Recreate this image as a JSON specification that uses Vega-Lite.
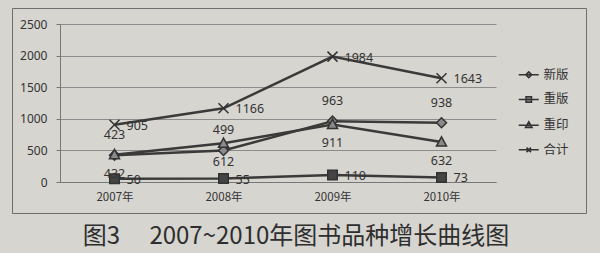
{
  "$schema": "https://vega.github.io/schema/vega-lite/v6.json",
  "width": 574,
  "height": 205,
  "autosize": {"type": "none"},
  "padding": {"left": 12, "top": 8, "right": 14, "bottom": 40},
  "background": "#d7d5d0",
  "config": {
    "view": {"stroke": "#6e6e6e", "strokeWidth": 1},
    "font": "Noto Sans CJK SC"
  },
  "title": {
    "text": "图3\u3000 2007~2010年图书品种增长曲线图",
    "orient": "bottom",
    "anchor": "middle",
    "frame": "group",
    "fontSize": 24,
    "fontWeight": 400,
    "color": "#2e2e2e",
    "offset": 12,
    "dx": -3
  },
  "data": {
    "values": [
      {"year": "2007年", "series": "新版", "value": 423},
      {"year": "2007年", "series": "重版", "value": 50},
      {"year": "2007年", "series": "重印", "value": 432},
      {"year": "2007年", "series": "合计", "value": 905},
      {"year": "2008年", "series": "新版", "value": 499},
      {"year": "2008年", "series": "重版", "value": 55},
      {"year": "2008年", "series": "重印", "value": 612},
      {"year": "2008年", "series": "合计", "value": 1166},
      {"year": "2009年", "series": "新版", "value": 963},
      {"year": "2009年", "series": "重版", "value": 110},
      {"year": "2009年", "series": "重印", "value": 911},
      {"year": "2009年", "series": "合计", "value": 1984},
      {"year": "2010年", "series": "新版", "value": 938},
      {"year": "2010年", "series": "重版", "value": 73},
      {"year": "2010年", "series": "重印", "value": 632},
      {"year": "2010年", "series": "合计", "value": 1643}
    ]
  },
  "layer": [
    {
      "mark": {"type": "line", "color": "#3a3a3a", "strokeWidth": 2.5},
      "encoding": {
        "x": {
          "field": "year", "type": "nominal",
          "sort": ["2007年", "2008年", "2009年", "2010年"],
          "scale": {"type": "point", "range": [48, 484], "padding": 0.5},
          "axis": {
            "offset": -31, "title": null, "labelAngle": 0, "ticks": false,
            "domainColor": "#777777", "labelPadding": 9, "labelFontSize": 11.5,
            "labelColor": "#333333", "grid": false
          }
        },
        "y": {
          "field": "value", "type": "quantitative",
          "scale": {"domain": [0, 2500], "range": [174, 16], "nice": false},
          "axis": {
            "values": [0, 500, 1000, 1500, 2000, 2500], "format": "d",
            "offset": -48, "title": null, "domain": true, "domainColor": "#777777",
            "ticks": true, "tickSize": 4, "tickColor": "#777777",
            "grid": true, "gridColor": "#8c8c8c",
            "labelFontSize": 12, "labelColor": "#333333", "labelPadding": 9,
            "labelFont": "Noto Sans"
          }
        },
        "detail": {"field": "series", "type": "nominal"}
      }
    },
    {
      "mark": {"type": "point", "filled": true, "stroke": "#333333", "strokeWidth": 1.5, "size": 100, "opacity": 1},
      "encoding": {
        "x": {"field": "year", "type": "nominal", "sort": ["2007年", "2008年", "2009年", "2010年"]},
        "y": {"field": "value", "type": "quantitative"},
        "shape": {
          "field": "series", "type": "nominal",
          "scale": {
            "domain": ["新版", "重版", "重印", "合计"],
            "range": ["M0,-1L1,0L0,1L-1,0Z", "M-0.95,-0.95H0.95V0.95H-0.95Z", "M0,-1.05L1,0.8H-1Z", "M-1,-1L1,1M1,-1L-1,1"]
          },
          "legend": null
        },
        "fill": {
          "field": "series", "type": "nominal",
          "scale": {"domain": ["新版", "重版", "重印", "合计"], "range": ["#8a8a8a", "#444444", "#8a8a8a", "#333333"]},
          "legend": null
        }
      }
    },
    {
      "transform": [{"filter": {"field": "series", "equal": "新版"}}],
      "mark": {"type": "text", "dy": -20, "align": "center", "baseline": "middle", "fontSize": 12.5, "color": "#333333", "font": "Noto Sans"},
      "encoding": {
        "x": {"field": "year", "type": "nominal", "sort": ["2007年", "2008年", "2009年", "2010年"]},
        "y": {"field": "value", "type": "quantitative"},
        "text": {"field": "value", "type": "quantitative"}
      }
    },
    {
      "transform": [{"filter": {"field": "series", "equal": "重印"}}],
      "mark": {"type": "text", "dy": 19, "align": "center", "baseline": "middle", "fontSize": 12.5, "color": "#333333", "font": "Noto Sans"},
      "encoding": {
        "x": {"field": "year", "type": "nominal", "sort": ["2007年", "2008年", "2009年", "2010年"]},
        "y": {"field": "value", "type": "quantitative"},
        "text": {"field": "value", "type": "quantitative"}
      }
    },
    {
      "transform": [{"filter": {"field": "series", "equal": "重版"}}],
      "mark": {"type": "text", "dx": 12, "dy": 1, "align": "left", "baseline": "middle", "fontSize": 12.5, "color": "#333333", "font": "Noto Sans"},
      "encoding": {
        "x": {"field": "year", "type": "nominal", "sort": ["2007年", "2008年", "2009年", "2010年"]},
        "y": {"field": "value", "type": "quantitative"},
        "text": {"field": "value", "type": "quantitative"}
      }
    },
    {
      "transform": [{"filter": {"field": "series", "equal": "合计"}}],
      "mark": {"type": "text", "dx": 12, "dy": 1, "align": "left", "baseline": "middle", "fontSize": 12.5, "color": "#333333", "font": "Noto Sans"},
      "encoding": {
        "x": {"field": "year", "type": "nominal", "sort": ["2007年", "2008年", "2009年", "2010年"]},
        "y": {"field": "value", "type": "quantitative"},
        "text": {"field": "value", "type": "quantitative"}
      }
    },
    {
      "data": {"values": []},
      "mark": {"type": "point", "filled": true, "color": "#888888", "stroke": "#333333", "strokeWidth": 2.5, "size": 225, "opacity": 1},
      "encoding": {
        "shape": {
          "field": "series", "type": "nominal",
          "scale": {
            "domain": ["新版", "重版", "重印", "合计"],
            "range": [
              "M-2,0H2M0,-0.6L0.6,0L0,0.6L-0.6,0Z",
              "M-2,0H2M-0.55,-0.55H0.55V0.55H-0.55Z",
              "M-2,0H2M0,-0.7L0.65,0.45H-0.65Z",
              "M-2,0H2M-0.45,-0.45L0.45,0.45M0.45,-0.45L-0.45,0.45"
            ]
          },
          "legend": {
            "title": null, "orient": "none", "legendX": 510.5, "legendY": 60.5,
            "padding": 0, "rowPadding": 11.7, "labelOffset": 8.5,
            "labelFontSize": 12.5, "labelColor": "#333333", "labelFont": "Noto Sans CJK SC",
            "symbolOpacity": 1,
            "encode": {
              "symbols": {
                "update": {
                  "stroke": {"value": "#333333"},
                  "strokeWidth": {"value": 2.5},
                  "fill": {"value": "#888888"},
                  "size": {"value": 225},
                  "opacity": {"value": 1}
                }
              }
            }
          }
        }
      }
    }
  ],
  "resolve": {"scale": {"shape": "independent", "fill": "independent"}}
}
